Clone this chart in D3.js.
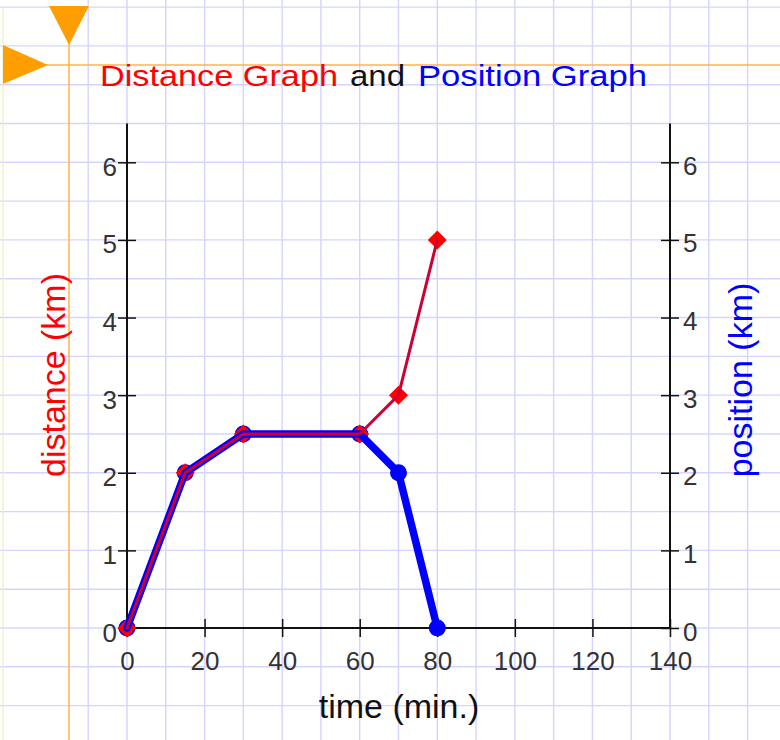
<!DOCTYPE html>
<html>
<head>
<meta charset="utf-8">
<script src="https://cdn.jsdelivr.net/npm/d3@7"></script>
<style>
  html, body { margin: 0; padding: 0; background: #fff; }
  svg { display: block; font-family: "Liberation Sans", Arial, sans-serif; }
</style>
</head>
<body>
<svg id="chart" width="780" height="740"></svg>
<script>
// ---- data ----
const times = [0, 15, 30, 60, 70, 80];
const distanceValues = [0, 2, 2.5, 2.5, 3, 5];
const positionValues = [0, 2, 2.5, 2.5, 2, 0];
const xTicks = [0, 20, 40, 60, 80, 100, 120, 140];
const yTicks = [0, 1, 2, 3, 4, 5, 6];
const titleParts = ["Distance Graph", "and", "Position Graph"];
const titleColors = ["#ff0000", "#111111", "#0000ff"];
const xLabel = "time (min.)";
const leftLabel = "distance (km)";
const rightLabel = "position (km)";

const distance = times.map((t, i) => ({ t, v: distanceValues[i] }));
const position = times.map((t, i) => ({ t, v: positionValues[i] }));

const svg = d3.select("#chart");
const W = 780, H = 740;

const x = d3.scaleLinear().domain([0, 140]).range([127, 670]);
const y = d3.scaleLinear().domain([0, 6.5]).range([628, 123.5]);

// ---- background grid (every 10 min / 0.5 km across the whole page) ----
const gridX = d3.range(-10, 190, 10);
const gridY = d3.range(-3, 9, 0.5);
const grid = svg.append("g").attr("stroke", "#d4d4ff").attr("stroke-width", 1.4);
grid.selectAll("line.gx").data(gridX).join("line")
  .attr("x1", d => x(d)).attr("x2", d => x(d))
  .attr("y1", 0).attr("y2", H);
grid.selectAll("line.gy").data(gridY).join("line")
  .attr("y1", d => y(d)).attr("y2", d => y(d))
  .attr("x1", 0).attr("x2", W);
svg.append("line").attr("x1", 3).attr("x2", 3).attr("y1", 6).attr("y2", H)
  .attr("stroke", "#eef0c0").attr("stroke-width", 1.3);

// ---- orange guide lines and triangles ----
svg.append("line").attr("x1", 69).attr("x2", 69).attr("y1", 6).attr("y2", H)
  .attr("stroke", "#ffb347").attr("stroke-width", 1.5);
svg.append("line").attr("x1", 3).attr("x2", W).attr("y1", 65).attr("y2", 65)
  .attr("stroke", "#ffb347").attr("stroke-width", 1.5);
svg.append("path").attr("d", "M49,6 L89,6 L69,45 Z").attr("fill", "#ff9e00");
svg.append("path").attr("d", "M3,45 L3,84 L48,65 Z").attr("fill", "#ff9e00");

// ---- title ----
const titleX = [100, 350, 418];
const titleLen = [238, 55, 229];
svg.append("g").selectAll("text").data(titleParts).join("text")
  .attr("x", (d, i) => titleX[i]).attr("y", 86)
  .attr("font-size", 29)
  .attr("textLength", (d, i) => titleLen[i])
  .attr("lengthAdjust", "spacingAndGlyphs")
  .attr("fill", (d, i) => titleColors[i])
  .text(d => d);

// ---- axes ----
function styleAxis(g, orient) {
  g.select(".domain").attr("stroke", "#111").attr("stroke-width", 2);
  g.selectAll(".tick line").attr("stroke", "#111").attr("stroke-width", 1.5);
  if (orient === "left" || orient === "right") {
    g.selectAll(".tick line").attr("x1", -9).attr("x2", 9);
  } else {
    g.selectAll(".tick line").attr("y1", -9).attr("y2", 9);
  }
  g.selectAll(".tick text").attr("fill", "#333").attr("font-size", 26)
    .attr("font-family", "Liberation Sans, Arial, sans-serif");
}
const fmt = d3.format("d");

const xAxis = svg.append("g").attr("transform", `translate(0,${y(0)})`)
  .call(d3.axisBottom(x).tickValues(xTicks).tickFormat(fmt).tickSizeOuter(0));
styleAxis(xAxis, "bottom");
xAxis.select(".domain").attr("d", `M${x(0)},0H${x(140)}`);
xAxis.selectAll(".tick text").attr("dy", null).attr("y", 42);

const leftAxis = svg.append("g").attr("transform", `translate(${x(0)},0)`)
  .call(d3.axisLeft(y).tickValues(yTicks).tickFormat(fmt).tickSizeOuter(0));
styleAxis(leftAxis, "left");
leftAxis.select(".domain").attr("d", `M0,${y(6.5)}V${y(0)}`);
leftAxis.selectAll(".tick text").attr("x", -10).attr("dy", null).attr("y", 13);

const rightAxis = svg.append("g").attr("transform", `translate(${x(140)},0)`)
  .call(d3.axisRight(y).tickValues(yTicks).tickFormat(fmt).tickSizeOuter(0));
styleAxis(rightAxis, "right");
rightAxis.select(".domain").attr("d", `M0,${y(6.5)}V${y(0)}`);
rightAxis.selectAll(".tick text").attr("x", 13).attr("dy", null).attr("y", 12);

// ---- axis titles ----
svg.append("text").attr("x", 399).attr("y", 718).attr("text-anchor", "middle")
  .attr("font-size", 34).attr("fill", "#111").text(xLabel);
svg.append("text").attr("transform", `translate(65,375) rotate(-90)`)
  .attr("text-anchor", "middle").attr("font-size", 34).attr("fill", "#ff0000")
  .text(leftLabel);
svg.append("text").attr("transform", `translate(752,380) rotate(-90)`)
  .attr("text-anchor", "middle").attr("font-size", 34).attr("fill", "#0000ff")
  .text(rightLabel);

// ---- series ----
const line = d3.line().x(d => x(d.t)).y(d => y(d.v));

svg.append("g").selectAll("circle").data(position).join("circle")
  .attr("cx", d => x(d.t)).attr("cy", d => y(d.v)).attr("r", 8.5)
  .attr("fill", "#0000ff");

const diamond = d3.symbol().type(d3.symbolSquare).size(180);
svg.append("g").selectAll("path").data(distance).join("path")
  .attr("d", diamond)
  .attr("transform", d => `translate(${x(d.t)},${y(d.v)}) rotate(45)`)
  .attr("fill", "#ff0000");

svg.append("path").datum(position).attr("d", line)
  .attr("fill", "none").attr("stroke", "#0000ff").attr("stroke-width", 7.5)
  .attr("stroke-linejoin", "round").attr("stroke-linecap", "round");

svg.append("path").datum(distance).attr("d", line)
  .attr("fill", "none").attr("stroke", "#cc0033").attr("stroke-width", 3)
  .attr("stroke-linejoin", "round").attr("stroke-linecap", "round");
</script>
</body>
</html>
